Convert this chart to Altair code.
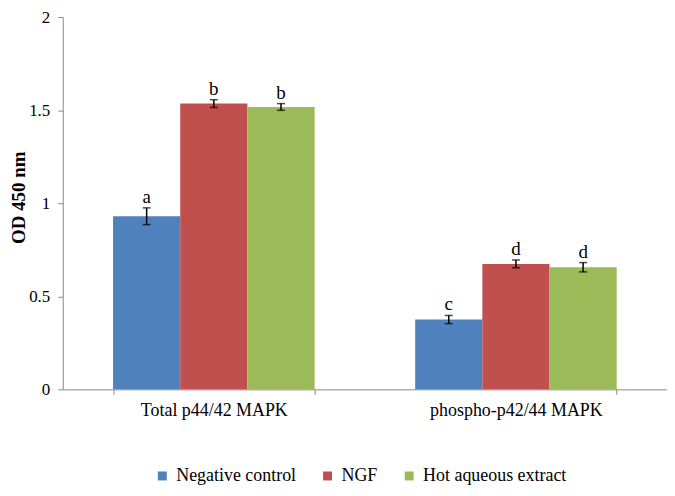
import altair as alt
import pandas as pd

categories = ["Total p44/42 MAPK", "phospho-p42/44 MAPK"]
groups = ["Negative control", "NGF", "Hot aqueous extract"]
colors = ["#4F81BD", "#C0504D", "#9BBB59"]

neg_values = [0.93, 0.375]
ngf_values = [1.535, 0.674]
hot_values = [1.517, 0.656]

neg_err = [0.045, 0.022]
ngf_err = [0.021, 0.021]
hot_err = [0.018, 0.025]

neg_letters = ["a", "c"]
ngf_letters = ["b", "d"]
hot_letters = ["b", "d"]

rows = []
for g, vals, errs, lets in [
    (groups[0], neg_values, neg_err, neg_letters),
    (groups[1], ngf_values, ngf_err, ngf_letters),
    (groups[2], hot_values, hot_err, hot_letters),
]:
    for c, v, e, l in zip(categories, vals, errs, lets):
        rows.append({"cat": c, "group": g, "value": v, "lo": v - e, "hi": v + e, "letter": l})
df = pd.DataFrame(rows)

FONT = "Liberation Serif"
PAD_TOP = 8
VIEW_H = 374

y_axis = alt.Axis(
    title="OD 450 nm",
    values=[0, 0.5, 1, 1.5, 2],
    format=".1~f",
    grid=False,
    labelFont=FONT,
    labelFontSize=17,
    labelColor="black",
    labelPadding=8,
    domainColor="#888888",
    tickColor="#888888",
    tickSize=5,
    titleFont=FONT,
    titleFontSize=19,
    titleFontWeight="bold",
    titleColor="black",
    titleAngle=270,
    titleAlign="center",
    titleBaseline="middle",
    titleX=-44,
    titleY=VIEW_H / 2 - 6,
)
y_scale = alt.Scale(domain=[0, 2], nice=False)

x_enc = alt.X(
    "cat:N",
    sort=categories,
    title=None,
    scale=alt.Scale(paddingInner=0.333, paddingOuter=0.1665),
    axis=alt.Axis(
        title=None,
        labelAngle=0,
        labelFont=FONT,
        labelFontSize=18,
        labelColor="black",
        domainColor="#888888",
        tickColor="#888888",
        tickBand="extent",
        tickSize=5,
        labelPadding=7,
        grid=False,
    ),
)
xoff = alt.XOffset("group:N", sort=groups, scale=alt.Scale(paddingInner=0, paddingOuter=0))

bars = alt.Chart(df).mark_bar().encode(
    x=x_enc,
    xOffset=xoff,
    y=alt.Y("value:Q", scale=y_scale, axis=y_axis, title="OD 450 nm"),
    color=alt.Color(
        "group:N",
        sort=groups,
        scale=alt.Scale(domain=groups, range=colors),
        legend=alt.Legend(
            title=None,
            orient="none",
            direction="horizontal",
            legendX=91,
            legendY=VIEW_H + 78,
            symbolType="square",
            symbolSize=81,
            symbolStrokeWidth=0,
            labelFont=FONT,
            labelFontSize=18,
            labelColor="black",
            labelOffset=5,
            columnPadding=22,
        ),
    ),
)

err_rule = alt.Chart(df).mark_rule(color="black", strokeWidth=1.5).encode(
    x=x_enc,
    xOffset=xoff,
    y=alt.Y("lo:Q", scale=y_scale, axis=y_axis, title="OD 450 nm"),
    y2="hi:Q",
)
cap_hi = alt.Chart(df).mark_tick(color="black", thickness=1.5, size=8).encode(
    x=x_enc,
    xOffset=xoff,
    y=alt.Y("hi:Q", scale=y_scale, axis=y_axis, title="OD 450 nm"),
)
cap_lo = alt.Chart(df).mark_tick(color="black", thickness=1.5, size=8).encode(
    x=x_enc,
    xOffset=xoff,
    y=alt.Y("lo:Q", scale=y_scale, axis=y_axis, title="OD 450 nm"),
)
letters = alt.Chart(df).mark_text(
    font=FONT, fontSize=19, color="black", baseline="alphabetic", dy=-5
).encode(
    x=x_enc,
    xOffset=xoff,
    y=alt.Y("hi:Q", scale=y_scale, axis=y_axis, title="OD 450 nm"),
    text="letter:N",
)

chart = (
    alt.layer(bars, err_rule, cap_hi, cap_lo, letters)
    .properties(
        width=607,
        height=VIEW_H,
        autosize=alt.AutoSizeParams(type="none"),
        padding={"left": 55, "top": PAD_TOP, "right": 0, "bottom": 480 - PAD_TOP - VIEW_H},
        background="white",
    )
    .configure(font=FONT)
    .configure_view(stroke=None)
    .configure_axis(labelFont=FONT, titleFont=FONT)
    .configure_legend(labelFont=FONT, labelFontSize=18)
)

chart.save("out.html", embed_options={"renderer": "svg", "actions": False})
